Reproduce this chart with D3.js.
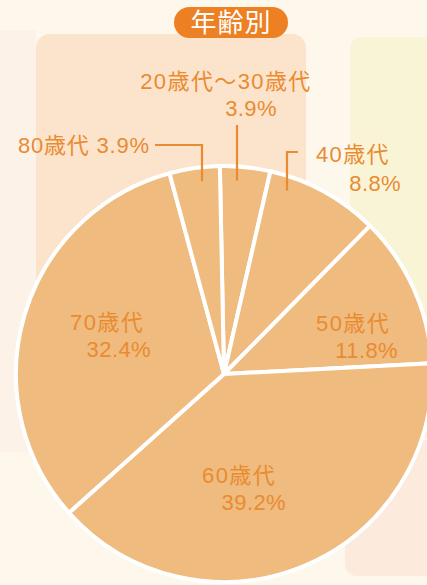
<!DOCTYPE html>
<html><head><meta charset="utf-8">
<script src="https://cdn.jsdelivr.net/npm/d3@7/dist/d3.min.js"></script>
<style>
html,body{margin:0;padding:0;background:#FEF7EC;}
svg{display:block;}
text{font-family:"Noto Sans CJK JP","Noto Sans",sans-serif;}
text.lbl{font-family:"Liberation Sans","Noto Sans CJK JP",sans-serif;}
</style></head>
<body>
<svg id="chart" width="427" height="585"></svg>
<script>
const title = "年齢別";
const categories = ["20歳代〜30歳代", "40歳代", "50歳代", "60歳代", "70歳代", "80歳代"];
const values = [3.9, 8.8, 11.8, 39.2, 32.4, 3.9];
const valueLabels = ["3.9%", "8.8%", "11.8%", "39.2%", "32.4%", "3.9%"];

const svg = d3.select("#chart");
const W = 427, H = 585;
const cx = 224, cy = 374, R = 208;
const orange = "#E98B31";

// background panels
const bg = svg.append("g");
bg.append("rect").attr("x",0).attr("y",0).attr("width",W).attr("height",H).attr("fill","#FEF7EC");
bg.append("rect").attr("x",-10).attr("y",30).attr("width",46).attr("height",422).attr("fill","#FCF2E7");
bg.append("rect").attr("x",36).attr("y",34).attr("width",270).attr("height",440).attr("rx",14).attr("fill","#FCE3CB");
bg.append("rect").attr("x",350).attr("y",37).attr("width",90).attr("height",400).attr("rx",12).attr("fill","#FAF4D7");
bg.append("rect").attr("x",345).attr("y",440).attr("width",95).attr("height",136).attr("rx",12).attr("fill","#FCEBDC");

// title pill
const tg = svg.append("g");
tg.append("rect").attr("x",174).attr("y",7).attr("width",114).attr("height",31).attr("rx",15.5).attr("fill","#EE8024");
tg.append("text").attr("x",231).attr("y",32).attr("text-anchor","middle")
  .attr("font-size",26).attr("letter-spacing",1).attr("fill","#FFFFFF").text(title);

// pie
const data = categories.map((c,i)=>({cat:c, value:values[i], label:valueLabels[i]}));
const pie = d3.pie().sort(null).value(d=>d.value)
  .startAngle(-0.02).endAngle(2*Math.PI-0.02);
const arcs = pie(data);
const arc = d3.arc().innerRadius(0).outerRadius(R);

const pg = svg.append("g").attr("transform",`translate(${cx},${cy})`);
pg.selectAll("path").data(arcs).join("path")
  .attr("d",arc).attr("fill","#EFBB7E")
  .attr("stroke","#FFFFFF").attr("stroke-width",4).attr("stroke-linejoin","round");

// labels
const fs = 22;
const lg = svg.append("g").attr("fill",orange).attr("font-size",fs);
function txt(x,y,anchor,s,ls){
  lg.append("text").attr("class","lbl").attr("x",x).attr("y",y)
    .attr("text-anchor",anchor).attr("letter-spacing",ls).text(s);
}
// inside labels
txt(70,330,"start",categories[4],1.4);  txt(151,357,"end",valueLabels[4],0.4);
txt(316,331,"start",categories[2],1.4); txt(398,358,"end",valueLabels[2],0.4);
txt(202,483,"start",categories[3],1.4); txt(286,510,"end",valueLabels[3],0.4);
// outside labels
txt(226,89,"middle",categories[0],1.4); txt(251,116,"middle",valueLabels[0],0.4);
txt(18,153,"start",categories[5]+" "+valueLabels[5],0.8);
txt(390,162,"end",categories[1],1.4); txt(401,191,"end",valueLabels[1],0.4);

// leader lines: end a little inside the pie edge
function edgeY(x, inset){ return cy - Math.sqrt((R-inset)*(R-inset)-(x-cx)*(x-cx)); }
const ll = svg.append("g").attr("stroke",orange).attr("stroke-width",2.2).attr("fill","none");
ll.append("path").attr("d",`M155,145H202V${edgeY(202,14)}`);
ll.append("path").attr("d",`M237,125V${edgeY(237,14)}`);
ll.append("path").attr("d",`M298,152H287V${edgeY(287,14)}`);
</script>
</body></html>
